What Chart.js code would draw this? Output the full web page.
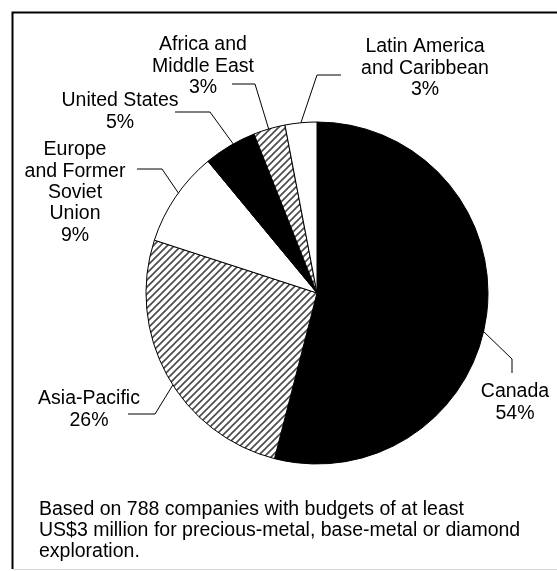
<!DOCTYPE html>
<html>
<head>
<meta charset="utf-8">
<script src="https://cdn.jsdelivr.net/npm/chart.js@4/dist/chart.umd.min.js"></script>
<style>
  html, body { margin: 0; padding: 0; background: #fff; }
  #wrap { position: relative; width: 557px; height: 571px; }
</style>
</head>
<body>
<div id="wrap"><canvas id="pie" width="557" height="571"></canvas></div>
<script>
// regions, clockwise from 12 o'clock
var regions = ['Canada', 'Asia-Pacific', 'Europe and Former Soviet Union', 'United States', 'Africa and Middle East', 'Latin America and Caribbean'];
var shares = [54, 26, 9, 5, 3, 3];
var fills = ['solid', 'hatch', 'plain', 'solid', 'hatch', 'plain'];

// label text, broken into lines as printed
var labelLines = [
    ['Canada'],
    ['Asia-Pacific'],
    ['Europe', 'and Former', 'Soviet', 'Union'],
    ['United States'],
    ['Africa and', 'Middle East'],
    ['Latin America', 'and Caribbean']
];

var footnote = [
    'Based on 788 companies with budgets of at least',
    'US$3 million for precious-metal, base-metal or diamond',
    'exploration.'
];

// where each label sits and how its leader runs to the slice
// cx: text centre, y0: first text row, leg: start and elbow of the leader, at: spot along the slice edge
var labelLayout = [
    { cx: 515, y0: 392, leg: [[512, 373], [512, 359]], at: 0.53 },
    { cx: 89,  y0: 399, leg: [[128, 414], [155, 414]], at: 0.46 },
    { cx: 75,  y0: 150, leg: [[137, 169], [162, 169]], at: 0.55 },
    { cx: 120, y0: 101, leg: [[175, 112], [210, 112]], at: 0.57 },
    { cx: 203, y0: 45,  leg: [[232, 84],  [255, 84]],  at: 0.48 },
    { cx: 425, y0: 47,  leg: [[341, 75],  [317, 75]],  at: 0.5 }
];

var FONT = '19.5px "Liberation Sans", Arial, sans-serif';
var LINE_H = 21.3;

function hatchPattern() {
    var s = 7;
    var c = document.createElement('canvas');
    c.width = s; c.height = s;
    var g = c.getContext('2d');
    g.fillStyle = '#fff';
    g.fillRect(0, 0, s, s);
    g.strokeStyle = '#4a4a4a';
    g.lineWidth = 1.6;
    g.beginPath();
    g.moveTo(-1, 1); g.lineTo(1, -1);
    g.moveTo(0, s); g.lineTo(s, 0);
    g.moveTo(s - 1, s + 1); g.lineTo(s + 1, s - 1);
    g.stroke();
    return g.createPattern(c, 'repeat');
}

var ctx0 = document.getElementById('pie').getContext('2d');
var hatch = hatchPattern();
var colours = fills.map(function (f) {
    if (f === 'solid') return '#000';
    if (f === 'hatch') return hatch;
    return '#fff';
});

var frameAndLabels = {
    id: 'frameAndLabels',
    beforeDraw: function (chart) {
        var ctx = chart.ctx;
        ctx.save();
        ctx.fillStyle = '#fff';
        ctx.fillRect(0, 0, chart.width, chart.height);
        ctx.restore();
    },
    afterDraw: function (chart) {
        var ctx = chart.ctx;
        var arcs = chart.getDatasetMeta(0).data;
        ctx.save();

        // box round the chart
        ctx.strokeStyle = '#000';
        ctx.lineWidth = 2;
        ctx.beginPath();
        ctx.moveTo(12.5, 569);
        ctx.lineTo(12.5, 12.5);
        ctx.lineTo(560, 12.5);
        ctx.stroke();
        ctx.strokeStyle = '#d8d8d8';
        ctx.lineWidth = 1;
        ctx.beginPath();
        ctx.moveTo(13, 569.5);
        ctx.lineTo(557, 569.5);
        ctx.stroke();

        ctx.font = FONT;
        ctx.fillStyle = '#000';
        ctx.textBaseline = 'middle';

        labelLayout.forEach(function (lay, i) {
            var arc = arcs[i];
            var p = arc.getProps(['x', 'y', 'startAngle', 'endAngle', 'outerRadius'], true);
            var a = p.startAngle + (p.endAngle - p.startAngle) * lay.at;
            var ex = p.x + Math.cos(a) * p.outerRadius;
            var ey = p.y + Math.sin(a) * p.outerRadius;

            ctx.strokeStyle = '#000';
            ctx.lineWidth = 1;
            ctx.beginPath();
            ctx.moveTo(lay.leg[0][0], lay.leg[0][1]);
            ctx.lineTo(lay.leg[1][0], lay.leg[1][1]);
            ctx.lineTo(ex, ey);
            ctx.stroke();

            ctx.textAlign = 'center';
            var rows = labelLines[i].concat([shares[i] + '%']);
            rows.forEach(function (t, k) {
                ctx.fillText(t, lay.cx, lay.y0 + k * LINE_H);
            });
        });

        ctx.textAlign = 'left';
        footnote.forEach(function (t, k) {
            ctx.fillText(t, 39, 510 + k * 21);
        });
        ctx.restore();
    }
};

new Chart(ctx0, {
    type: 'pie',
    data: {
        labels: regions,
        datasets: [{
            data: shares,
            backgroundColor: colours,
            borderColor: '#000',
            borderWidth: 1,
            radius: 171
        }]
    },
    options: {
        responsive: false,
        animation: false,
        events: [],
        layout: {
            padding: { left: 146, right: 69, top: 122, bottom: 107 }
        },
        plugins: {
            legend: { display: false },
            tooltip: { enabled: false },
            title: { display: false }
        }
    },
    plugins: [frameAndLabels]
});
</script>
</body>
</html>
